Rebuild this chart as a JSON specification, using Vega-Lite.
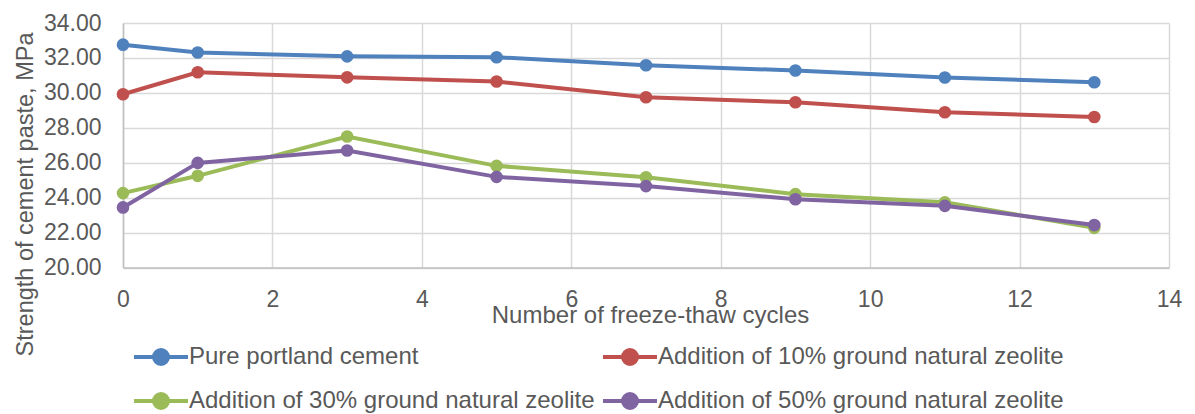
{
  "$schema": "https://vega.github.io/schema/vega-lite/v6.json",
  "width": 1046,
  "height": 244.5,
  "autosize": {"type": "none"},
  "padding": {"left": 123, "top": 23, "right": 26, "bottom": 146.5},
  "background": "white",
  "config": {
    "view": {"stroke": null},
    "font": "Liberation Sans",
    "axis": {"labelFont": "Liberation Sans", "titleFont": "Liberation Sans", "labelColor": "#595959", "titleColor": "#595959", "titleFontWeight": "normal"},
    "legend": {"labelFont": "Liberation Sans", "labelColor": "#595959"}
  },
  "data": {
    "values": [
      {"cycles": 0, "series": "Pure portland cement", "strength": 32.76},
      {"cycles": 1, "series": "Pure portland cement", "strength": 32.31},
      {"cycles": 3, "series": "Pure portland cement", "strength": 32.09},
      {"cycles": 5, "series": "Pure portland cement", "strength": 32.04},
      {"cycles": 7, "series": "Pure portland cement", "strength": 31.58},
      {"cycles": 9, "series": "Pure portland cement", "strength": 31.28},
      {"cycles": 11, "series": "Pure portland cement", "strength": 30.88},
      {"cycles": 13, "series": "Pure portland cement", "strength": 30.61},
      {"cycles": 0, "series": "Addition of 10% ground natural zeolite", "strength": 29.92},
      {"cycles": 1, "series": "Addition of 10% ground natural zeolite", "strength": 31.18},
      {"cycles": 3, "series": "Addition of 10% ground natural zeolite", "strength": 30.89},
      {"cycles": 5, "series": "Addition of 10% ground natural zeolite", "strength": 30.65},
      {"cycles": 7, "series": "Addition of 10% ground natural zeolite", "strength": 29.75},
      {"cycles": 9, "series": "Addition of 10% ground natural zeolite", "strength": 29.46},
      {"cycles": 11, "series": "Addition of 10% ground natural zeolite", "strength": 28.89},
      {"cycles": 13, "series": "Addition of 10% ground natural zeolite", "strength": 28.62},
      {"cycles": 0, "series": "Addition of 30% ground natural zeolite", "strength": 24.26},
      {"cycles": 1, "series": "Addition of 30% ground natural zeolite", "strength": 25.25},
      {"cycles": 3, "series": "Addition of 30% ground natural zeolite", "strength": 27.5},
      {"cycles": 5, "series": "Addition of 30% ground natural zeolite", "strength": 25.82},
      {"cycles": 7, "series": "Addition of 30% ground natural zeolite", "strength": 25.17},
      {"cycles": 9, "series": "Addition of 30% ground natural zeolite", "strength": 24.2},
      {"cycles": 11, "series": "Addition of 30% ground natural zeolite", "strength": 23.73},
      {"cycles": 13, "series": "Addition of 30% ground natural zeolite", "strength": 22.27},
      {"cycles": 0, "series": "Addition of 50% ground natural zeolite", "strength": 23.44},
      {"cycles": 1, "series": "Addition of 50% ground natural zeolite", "strength": 25.99},
      {"cycles": 3, "series": "Addition of 50% ground natural zeolite", "strength": 26.7},
      {"cycles": 5, "series": "Addition of 50% ground natural zeolite", "strength": 25.19},
      {"cycles": 7, "series": "Addition of 50% ground natural zeolite", "strength": 24.66},
      {"cycles": 9, "series": "Addition of 50% ground natural zeolite", "strength": 23.91},
      {"cycles": 11, "series": "Addition of 50% ground natural zeolite", "strength": 23.53},
      {"cycles": 13, "series": "Addition of 50% ground natural zeolite", "strength": 22.43}
    ]
  },
  "encoding": {
    "x": {
      "field": "cycles", "type": "quantitative",
      "scale": {"domain": [0, 14], "nice": false, "zero": false},
      "axis": {
        "values": [0, 2, 4, 6, 8, 10, 12, 14],
        "title": "Number of freeze-thaw cycles",
        "titleFontSize": 24, "titleX": 527, "titleY": 55, "titleBaseline": "alphabetic", "titleAnchor": null,
        "labelFontSize": 23, "labelBaseline": "alphabetic", "labelPadding": 38.5,
        "ticks": false, "tickSize": 0,
        "grid": true, "gridColor": "#d9d9d9", "gridWidth": 1.5,
        "domainColor": "#bfbfbf", "domainWidth": 1.5,
        "labelFlush": false
      }
    },
    "y": {
      "field": "strength", "type": "quantitative",
      "scale": {"domain": [20, 34], "nice": false, "zero": false},
      "axis": {
        "values": [20, 22, 24, 26, 28, 30, 32, 34],
        "format": ".2f",
        "title": "Strength of cement paste, MPa",
        "titleFontSize": 23.5, "titleX": -91, "titleY": 171, "titleAngle": 270, "titleAlign": "center", "titleBaseline": "alphabetic",
        "labelFontSize": 23, "labelPadding": 22, "labelBaseline": "middle",
        "ticks": false, "tickSize": 0,
        "grid": true, "gridColor": "#d9d9d9", "gridWidth": 1.5,
        "domainColor": "#bfbfbf", "domainWidth": 1.5,
        "labelFlush": false
      }
    },
    "color": {
      "field": "series", "type": "nominal",
      "scale": {
        "domain": ["Pure portland cement", "Addition of 10% ground natural zeolite", "Addition of 30% ground natural zeolite", "Addition of 50% ground natural zeolite"],
        "range": ["#4F81BD", "#C0504D", "#9BBB59", "#8064A2"]
      },
      "legend": {
        "title": null,
        "orient": "none",
        "legendX": 26,
        "legendY": 322,
        "columns": 2,
        "direction": "horizontal",
        "columnPadding": 0,
        "rowPadding": 14,
        "padding": 0,
        "labelFontSize": 24,
        "labelLimit": 600,
        "labelOffset": 16,
        "symbolType": "M-2.7,0H2.7M-0.7,0A0.7,0.7,0,1,1,0.7,0A0.7,0.7,0,1,1,-0.7,0Z",
        "symbolSize": 400,
        "symbolStrokeWidth": 4,
        "encode": {
          "symbols": {"update": {"fill": {"scale": "color", "field": "value"}, "stroke": {"scale": "color", "field": "value"}, "fillOpacity": {"value": 1}, "strokeWidth": {"value": 4}}}
        }
      }
    }
  },
  "layer": [
    {"mark": {"type": "line", "strokeWidth": 4}},
    {"mark": {"type": "point", "filled": true, "size": 160, "opacity": 1}}
  ]
}
